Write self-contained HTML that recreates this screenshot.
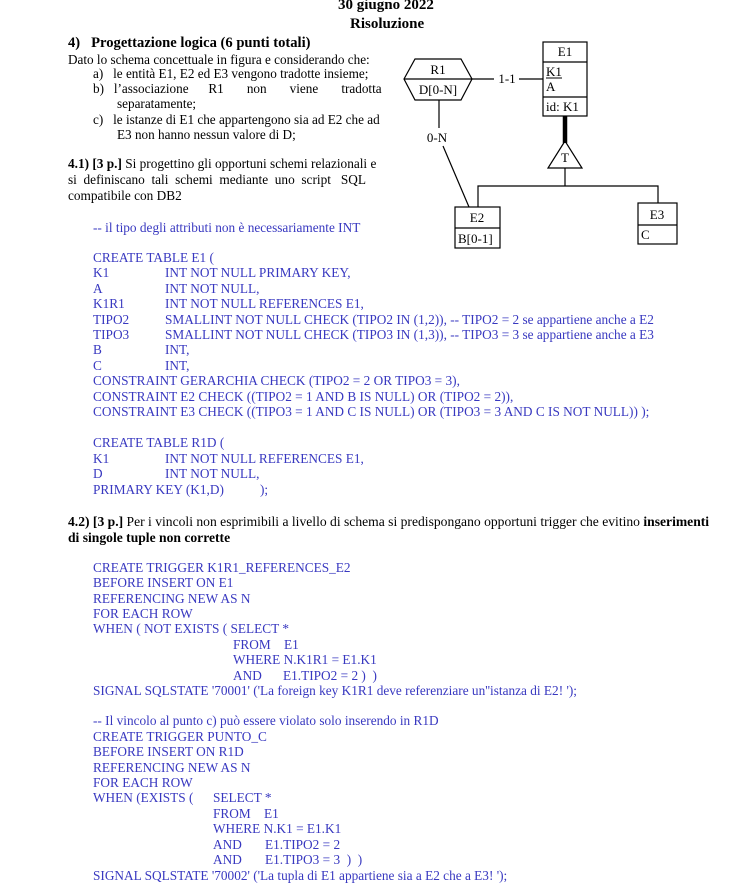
<!DOCTYPE html>
<html><head><meta charset="utf-8"><style>
body{margin:0;width:730px;height:886px;background:#fff;position:relative;overflow:hidden;font-family:"Liberation Serif",serif;font-size:13px;color:#000}
.l{position:absolute;white-space:pre;line-height:16px}
.c{color:#3838c0;font-size:13.3px}
b{font-weight:bold}
</style></head><body>
<div class="l" style="left:338px;top:-3px;font-size:15px;font-weight:bold">30 giugno 2022</div>
<div class="l" style="left:350px;top:16px;font-size:15px;font-weight:bold">Risoluzione</div>
<div class="l" style="left:68px;top:35px;font-size:14.6px;font-weight:bold">4)&nbsp;&nbsp; Progettazione logica (6 punti totali)</div>
<div class="l" style="left:68px;top:52px;font-size:13.2px">Dato lo schema concettuale in figura e considerando che:</div>
<div class="l" style="left:93px;top:66px;font-size:13.2px">a)&nbsp;&nbsp; le entità E1, E2 ed E3 vengono tradotte insieme;</div>
<div class="l" style="left:93px;top:81px;font-size:13.2px">b)&nbsp;&nbsp; l’associazione&nbsp;&nbsp;&nbsp;&nbsp;&nbsp; R1&nbsp;&nbsp;&nbsp;&nbsp;&nbsp;&nbsp; non&nbsp;&nbsp;&nbsp;&nbsp;&nbsp;&nbsp; viene&nbsp;&nbsp;&nbsp;&nbsp;&nbsp;&nbsp; tradotta</div>
<div class="l" style="left:117px;top:96px;font-size:13.2px">separatamente;</div>
<div class="l" style="left:93px;top:112px;font-size:13.2px">c)&nbsp;&nbsp; le istanze di E1 che appartengono sia ad E2 che ad</div>
<div class="l" style="left:117px;top:127px;font-size:13.2px">E3 non hanno nessun valore di D;</div>
<div class="l" style="left:68px;top:156px;font-size:13.3px"><b>4.1) [3 p.]</b> Si progettino gli opportuni schemi relazionali e</div>
<div class="l" style="left:68px;top:172px;font-size:13.3px">si&nbsp; definiscano&nbsp; tali&nbsp; schemi&nbsp; mediante&nbsp; uno&nbsp; script&nbsp;&nbsp; SQL</div>
<div class="l" style="left:68px;top:188px;font-size:13.3px">compatibile con DB2</div>

<svg style="position:absolute;left:0;top:0" width="730" height="260" font-family="Liberation Serif, serif" font-size="13">
<g fill="none" stroke="#000" stroke-width="1.2">
<rect x="543" y="42" width="44" height="74"/>
<line x1="543" y1="62" x2="587" y2="62"/><line x1="543" y1="97" x2="587" y2="97"/>
<polygon points="404,79 415,59 461,59 472,79 461,100 415,100"/>
<line x1="404" y1="79" x2="472" y2="79"/>
<line x1="472" y1="79" x2="494" y2="79"/><line x1="519" y1="79" x2="543" y2="79"/>
<line x1="439" y1="100" x2="439" y2="128"/><line x1="443" y1="146" x2="469" y2="207"/>
<polygon points="565,141 548,168 582,168"/>
<line x1="565" y1="168" x2="565" y2="186"/>
<polyline points="478,207 478,186 658,186 658,203"/>
<rect x="455" y="207" width="45" height="41"/><line x1="455" y1="228" x2="500" y2="228"/>
<rect x="638" y="203" width="39" height="41"/><line x1="638" y1="225" x2="677" y2="225"/>
</g>
<line x1="565" y1="116" x2="565" y2="143" stroke="#000" stroke-width="4.5"/>
<text x="565" y="56" text-anchor="middle">E1</text>
<text x="546" y="76">K1</text><line x1="546" y1="78" x2="562" y2="78" stroke="#000"/>
<text x="546" y="91">A</text>
<text x="546" y="111">id: K1</text>
<text x="438" y="74" text-anchor="middle">R1</text>
<text x="438" y="94" text-anchor="middle">D[0-N]</text>
<text x="507" y="83" text-anchor="middle">1-1</text>
<text x="437" y="142" text-anchor="middle">0-N</text>
<text x="565" y="162" text-anchor="middle">T</text>
<text x="477" y="222" text-anchor="middle">E2</text>
<text x="458" y="243">B[0-1]</text>
<text x="657" y="219" text-anchor="middle">E3</text>
<text x="641" y="239">C</text>
</svg>

<div class="l c" style="left:93px;top:220px">-- il tipo degli attributi non è necessariamente INT</div>
<div class="l c" style="left:93px;top:250px">CREATE TABLE E1 (</div>
<div class="l c" style="left:93px;top:265px">K1</div><div class="l c" style="left:165px;top:265px">INT NOT NULL PRIMARY KEY,</div>
<div class="l c" style="left:93px;top:281px">A</div><div class="l c" style="left:165px;top:281px">INT NOT NULL,</div>
<div class="l c" style="left:93px;top:296px">K1R1</div><div class="l c" style="left:165px;top:296px">INT NOT NULL REFERENCES E1,</div>
<div class="l c" style="left:93px;top:312px">TIPO2</div><div class="l c" style="left:165px;top:312px">SMALLINT NOT NULL CHECK (TIPO2 IN (1,2)), -- TIPO2 = 2 se appartiene anche a E2</div>
<div class="l c" style="left:93px;top:327px">TIPO3</div><div class="l c" style="left:165px;top:327px">SMALLINT NOT NULL CHECK (TIPO3 IN (1,3)), -- TIPO3 = 3 se appartiene anche a E3</div>
<div class="l c" style="left:93px;top:342px">B</div><div class="l c" style="left:165px;top:342px">INT,</div>
<div class="l c" style="left:93px;top:358px">C</div><div class="l c" style="left:165px;top:358px">INT,</div>
<div class="l c" style="left:93px;top:373px">CONSTRAINT GERARCHIA CHECK (TIPO2 = 2 OR TIPO3 = 3),</div>
<div class="l c" style="left:93px;top:389px">CONSTRAINT E2 CHECK ((TIPO2 = 1 AND B IS NULL) OR (TIPO2 = 2)),</div>
<div class="l c" style="left:93px;top:404px">CONSTRAINT E3 CHECK ((TIPO3 = 1 AND C IS NULL) OR (TIPO3 = 3 AND C IS NOT NULL)) );</div>

<div class="l c" style="left:93px;top:435px">CREATE TABLE R1D (</div>
<div class="l c" style="left:93px;top:451px">K1</div><div class="l c" style="left:165px;top:451px">INT NOT NULL REFERENCES E1,</div>
<div class="l c" style="left:93px;top:466px">D</div><div class="l c" style="left:165px;top:466px">INT NOT NULL,</div>
<div class="l c" style="left:93px;top:482px">PRIMARY KEY (K1,D)</div><div class="l c" style="left:260px;top:482px">);</div>

<div class="l" style="left:68px;top:514px;font-size:13.6px"><b>4.2) [3 p.]</b> Per i vincoli non esprimibili a livello di schema si predispongano opportuni trigger che evitino <b>inserimenti</b></div>
<div class="l" style="left:68px;top:530px;font-size:13.6px"><b>di singole tuple non corrette</b></div>

<div class="l c" style="left:93px;top:560px">CREATE TRIGGER K1R1_REFERENCES_E2</div>
<div class="l c" style="left:93px;top:575px">BEFORE INSERT ON E1</div>
<div class="l c" style="left:93px;top:591px">REFERENCING NEW AS N</div>
<div class="l c" style="left:93px;top:606px">FOR EACH ROW</div>
<div class="l c" style="left:93px;top:621px">WHEN ( NOT EXISTS ( SELECT *</div>
<div class="l c" style="left:233px;top:637px">FROM&nbsp;&nbsp;&nbsp; E1</div>
<div class="l c" style="left:233px;top:652px">WHERE N.K1R1 = E1.K1</div>
<div class="l c" style="left:233px;top:668px">AND</div><div class="l c" style="left:283px;top:668px">E1.TIPO2 = 2 )&nbsp; )</div>
<div class="l c" style="left:93px;top:683px">SIGNAL SQLSTATE '70001' ('La foreign key K1R1 deve referenziare un''istanza di E2! ');</div>

<div class="l c" style="left:93px;top:713px">-- Il vincolo al punto c) può essere violato solo inserendo in R1D</div>
<div class="l c" style="left:93px;top:729px">CREATE TRIGGER PUNTO_C</div>
<div class="l c" style="left:93px;top:744px">BEFORE INSERT ON R1D</div>
<div class="l c" style="left:93px;top:760px">REFERENCING NEW AS N</div>
<div class="l c" style="left:93px;top:775px">FOR EACH ROW</div>
<div class="l c" style="left:93px;top:790px">WHEN (EXISTS (</div><div class="l c" style="left:213px;top:790px">SELECT *</div>
<div class="l c" style="left:213px;top:806px">FROM&nbsp;&nbsp;&nbsp; E1</div>
<div class="l c" style="left:213px;top:821px">WHERE N.K1 = E1.K1</div>
<div class="l c" style="left:213px;top:837px">AND</div><div class="l c" style="left:265px;top:837px">E1.TIPO2 = 2</div>
<div class="l c" style="left:213px;top:852px">AND</div><div class="l c" style="left:265px;top:852px">E1.TIPO3 = 3&nbsp; )&nbsp; )</div>
<div class="l c" style="left:93px;top:868px">SIGNAL SQLSTATE '70002' ('La tupla di E1 appartiene sia a E2 che a E3! ');</div>
</body></html>
